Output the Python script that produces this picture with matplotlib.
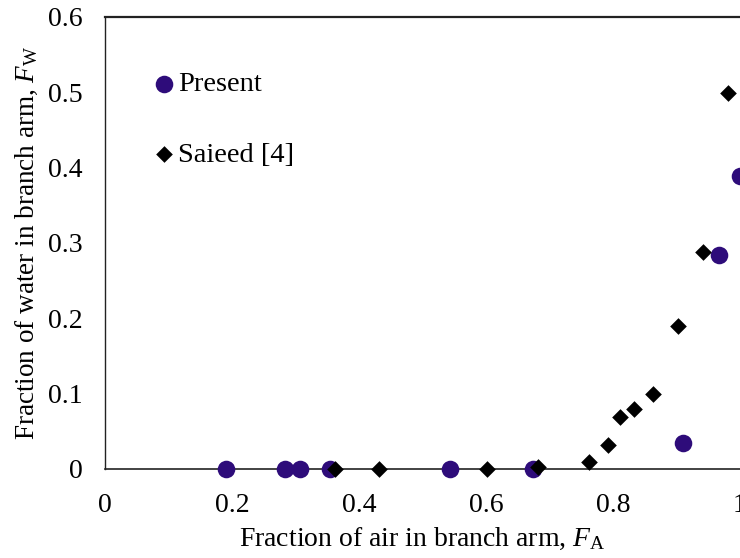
import numpy as np
import matplotlib.pyplot as plt

plt.rcParams['font.family'] = ['Liberation Serif', 'DejaVu Serif']
plt.rcParams['mathtext.fontset'] = 'custom'
plt.rcParams['mathtext.rm'] = 'Liberation Serif'
plt.rcParams['mathtext.it'] = 'Liberation Serif:italic'

# Present (simulation)
present_fa = [0.19, 0.283, 0.307, 0.354, 0.543, 0.674, 0.91, 0.967, 1.0]
present_fw = [0.0, 0.0, 0.0, 0.0, 0.0, 0.0, 0.035, 0.284, 0.389]

# Saieed [4]
saieed_fa = [0.362, 0.431, 0.602, 0.682, 0.762, 0.792, 0.811, 0.833, 0.863, 0.902, 0.942, 0.981]
saieed_fw = [0.0, 0.0, 0.0, 0.002, 0.009, 0.032, 0.069, 0.080, 0.100, 0.190, 0.288, 0.499]

xticks = [0, 0.2, 0.4, 0.6, 0.8, 1]
xticklabels = ['0', '0.2', '0.4', '0.6', '0.8', '1']
yticks = [0, 0.1, 0.2, 0.3, 0.4, 0.5, 0.6]
yticklabels = ['0', '0.1', '0.2', '0.3', '0.4', '0.5', '0.6']

fig = plt.figure(figsize=(7.4, 5.58), dpi=100)
ax = fig.add_axes([105/740, 89/558, 635/740, 452/558])

ax.scatter(present_fa, present_fw, s=160, color='#2E0C7A', marker='o',
           linewidths=0, label='Present', zorder=3, clip_on=False)
ax.scatter(saieed_fa, saieed_fw, s=72, color='black', marker='D',
           linewidths=0, label='Saieed [4]', zorder=4, clip_on=False)

ax.set_xlim(0, 1)
ax.set_ylim(0, 0.6)
ax.set_xticks(xticks)
ax.set_xticklabels(xticklabels)
ax.set_yticks(yticks)
ax.set_yticklabels(yticklabels)
ax.tick_params(axis='both', length=0, labelsize=20)
ax.tick_params(axis='x', pad=17)
ax.tick_params(axis='y', pad=16)

ax.spines['right'].set_visible(False)
ax.spines['top'].set_linewidth(1.6)
ax.spines['bottom'].set_linewidth(1.2)
ax.spines['left'].set_linewidth(1.0)
for s in ax.spines.values():
    s.set_color('#222222')

ax.set_xlabel(r'Fraction of air in branch arm, $F_\mathrm{A}$', fontsize=20, labelpad=6)
ax.set_ylabel(r'Fraction of water in branch arm, $F_\mathrm{W}$', fontsize=19.5, labelpad=6)

ax.legend(loc='upper left', bbox_to_anchor=(0.03, 0.905), frameon=False, fontsize=20.5,
          handletextpad=-0.5, labelspacing=1.57, borderaxespad=0)

fig.savefig('out.png', dpi=100)
